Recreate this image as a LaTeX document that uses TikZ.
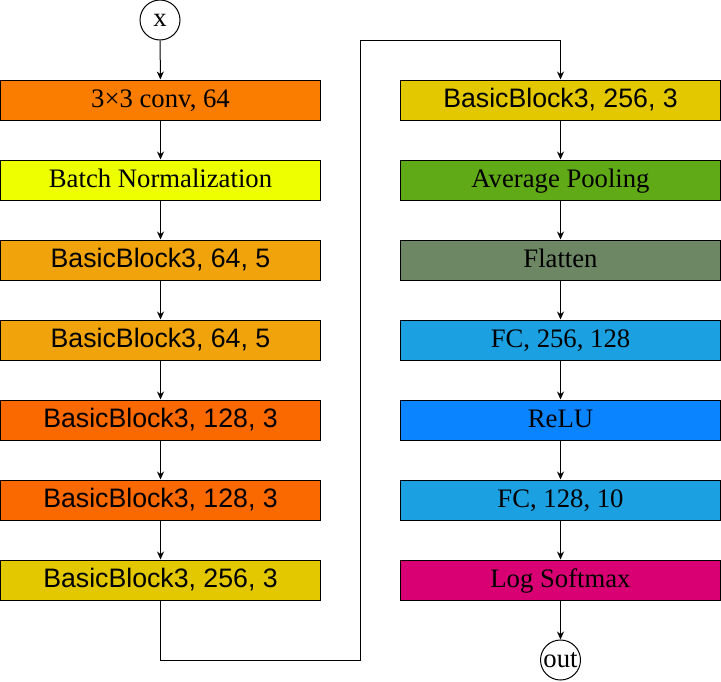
\documentclass[tikz,border=0pt]{standalone}
\usepackage{fontspec}
\setmainfont{Liberation Serif}
\setsansfont{Liberation Sans}
\usetikzlibrary{arrows.meta}
\definecolor{cconv}{HTML}{FA7D00}
\definecolor{cbn}{HTML}{EEFF00}
\definecolor{cb64}{HTML}{F0A30A}
\definecolor{cb128}{HTML}{FA6800}
\definecolor{cb256}{HTML}{E3C800}
\definecolor{cpool}{HTML}{60A917}
\definecolor{cflat}{HTML}{6D8764}
\definecolor{cfc}{HTML}{1BA1E2}
\definecolor{crelu}{HTML}{0A84FF}
\definecolor{csoft}{HTML}{D80073}
\tikzset{
  layer/.style={draw=black, line width=1pt, rectangle, minimum width=320pt, minimum height=40pt, inner sep=0pt, text height=20pt, text depth=5pt, font=\fontsize{26.7}{32}\selectfont},
  slayer/.style={layer, font=\sffamily\fontsize{26.7}{32}\selectfont},
  io/.style={draw=black, line width=1pt, circle, minimum size=40pt, inner sep=0pt, fill=white, font=\fontsize{26.7}{32}\selectfont},
  arr/.style={draw=black, line width=1pt, -{Stealth[length=8pt,width=7pt]}},
  wire/.style={draw=black, line width=1pt}
}
\begin{document}
\begin{tikzpicture}[x=1pt,y=-1pt]
\useasboundingbox (0,0) rectangle (721,681);
\node[io] (x) at (160,20) {x};
\node[layer, fill=cconv] (l1) at (160.5,100) {3×3 conv, 64};
\node[layer, fill=cbn] (l2) at (160.5,180) {Batch Normalization};
\node[slayer, fill=cb64] (l3) at (160.5,260) {BasicBlock3, 64, 5};
\node[slayer, fill=cb64] (l4) at (160.5,340) {BasicBlock3, 64, 5};
\node[slayer, fill=cb128] (l5) at (160.5,420) {BasicBlock3, 128, 3};
\node[slayer, fill=cb128] (l6) at (160.5,500) {BasicBlock3, 128, 3};
\node[slayer, fill=cb256] (l7) at (160.5,580) {BasicBlock3, 256, 3};
\node[slayer, fill=cb256] (r1) at (560.5,100) {BasicBlock3, 256, 3};
\node[layer, fill=cpool] (r2) at (560.5,180) {Average Pooling};
\node[layer, fill=cflat] (r3) at (560.5,260) {Flatten};
\node[layer, fill=cfc] (r4) at (560.5,340) {FC, 256, 128};
\node[layer, fill=crelu] (r5) at (560.5,420) {ReLU};
\node[layer, fill=cfc] (r6) at (560.5,500) {FC, 128, 10};
\node[layer, fill=csoft] (r7) at (560.5,580) {Log Softmax};
\node[io] (out) at (560.5,660) {out};
\coordinate (t1) at (160.5,660);
\coordinate (t2) at (360.5,660);
\coordinate (t3) at (360.5,40);
\coordinate (t4) at (560.5,40);
\draw[arr] (x) -- (l1);
\draw[arr] (l1) -- (l2);
\draw[arr] (l2) -- (l3);
\draw[arr] (l3) -- (l4);
\draw[arr] (l4) -- (l5);
\draw[arr] (l5) -- (l6);
\draw[arr] (l6) -- (l7);
\draw[arr] (l7.south) -- (t1) -- (t2) -- (t3) -- (t4) -- (r1.north);
\draw[arr] (r1) -- (r2);
\draw[arr] (r2) -- (r3);
\draw[arr] (r3) -- (r4);
\draw[arr] (r4) -- (r5);
\draw[arr] (r5) -- (r6);
\draw[arr] (r6) -- (r7);
\draw[arr] (r7) -- (out);
\end{tikzpicture}
\end{document}
